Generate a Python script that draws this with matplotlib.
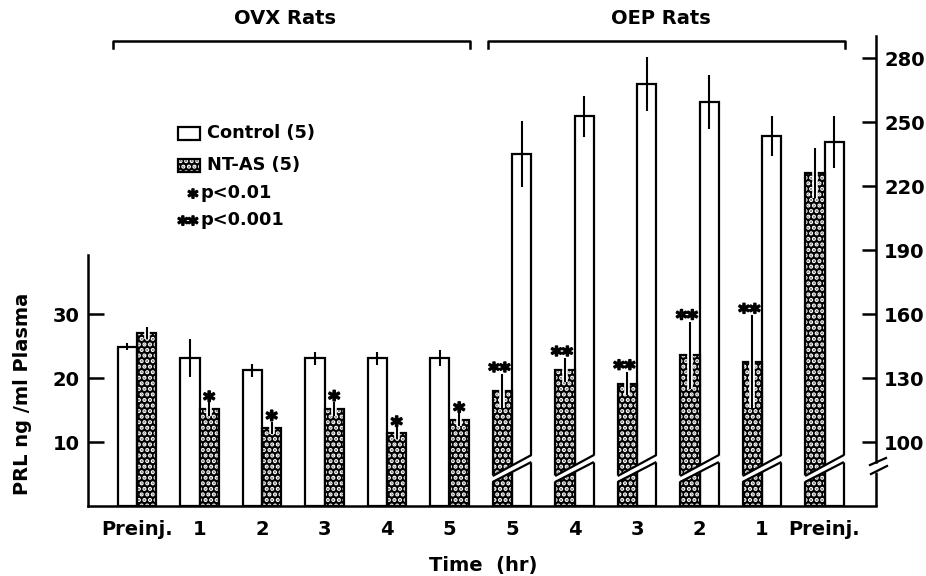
import numpy as np
import matplotlib
matplotlib.use('Agg')
import matplotlib.pyplot as plt
from matplotlib.patches import Rectangle, Polygon
from matplotlib import transforms
import matplotlib.patheffects as pe

plt.rcParams['font.family'] = ['DejaVu Sans']
plt.rcParams['font.weight'] = 'bold'
plt.rcParams['hatch.linewidth'] = 2.1

# OVX rats (left axis, ng/ml)
ovx_labels = ['Preinj.', '1', '2', '3', '4', '5']
ovx_control = [24.9, 23.1, 21.2, 23.1, 23.1, 23.1]
ovx_control_err = [0.5, 3.0, 1.0, 1.0, 1.0, 1.2]
ovx_ntas = [27.0, 15.1, 12.2, 15.2, 11.4, 13.5]
ovx_ntas_err = [0.9, 1.1, 1.0, 1.1, 0.9, 1.0]
ovx_sig = ['', '*', '*', '*', '*', '*']

# OEP rats (right axis, ng/ml)
oep_labels = ['5', '4', '3', '2', '1', 'Preinj.']
oep_control = [235.0, 252.7, 267.8, 259.3, 243.5, 240.6]
oep_control_err = [15.5, 9.7, 12.5, 12.5, 9.4, 12.2]
oep_ntas = [123.8, 133.8, 127.4, 140.6, 137.6, 226.2]
oep_ntas_err = [8.0, 5.5, 5.5, 15.8, 21.7, 11.8]
oep_sig = ['**', '**', '**', '**', '**', '']

left_ticks = [10, 20, 30]
right_ticks = [100, 130, 160, 190, 220, 250, 280]
right_base = 70          # right axis value at the (broken) baseline

W, H = 926, 576
BASE = 506               # baseline pixel row
fig = plt.figure(figsize=(W / 100, H / 100), dpi=100)
ax = fig.add_axes([88 / W, (H - BASE) / H, 788 / W, 470 / H])
ax2 = ax.twinx()

px_per_unit = 6.4
left_top = 470 / px_per_unit
ax.set_ylim(0, left_top)
ax2.set_ylim(right_base, right_base + 3 * left_top)
ax.set_xlim(-0.784, 11.824)

bw = 0.31
lw = 1.6
x_ovx = np.arange(len(ovx_labels))
x_oep = np.arange(len(ovx_labels), len(ovx_labels) + len(oep_labels))
bold_star = [pe.withStroke(linewidth=1.3, foreground='black')]


def stipple_bars(axis, x, heights, bottom=0):
    axis.bar(x, heights, bw, bottom=bottom, color='black', edgecolor='white',
             hatch='...', linewidth=0, zorder=2)
    axis.bar(x, heights, bw, bottom=bottom, fill=False, edgecolor='black',
             linewidth=lw, zorder=3)


def err(axis, x, y, e, halo=False):
    eb = axis.errorbar(x, y, yerr=e, fmt='none', ecolor='black', elinewidth=1.5,
                       capsize=0, zorder=4)
    if halo:
        eb[2][0].set_path_effects([pe.Stroke(linewidth=4, foreground='white'), pe.Normal()])


# OVX: control left, NT-AS right
ax.bar(x_ovx - bw / 2, ovx_control, bw, facecolor='white', edgecolor='black',
       linewidth=lw, zorder=2)
stipple_bars(ax, x_ovx + bw / 2, ovx_ntas)
err(ax, x_ovx - bw / 2, ovx_control, ovx_control_err)
err(ax, x_ovx + bw / 2, ovx_ntas, ovx_ntas_err, halo=True)

# OEP: NT-AS left, control right
oc = np.array(oep_control)
on = np.array(oep_ntas)
ax2.bar(x_oep + bw / 2, oc - right_base, bw, bottom=right_base, facecolor='white',
        edgecolor='black', linewidth=lw, zorder=2)
stipple_bars(ax2, x_oep - bw / 2, on - right_base, bottom=right_base)
err(ax2, x_oep + bw / 2, oc, oep_control_err)
err(ax2, x_oep - bw / 2, on, oep_ntas_err, halo=True)

# significance stars
for xi, v, e, s in zip(x_ovx + bw / 2, ovx_ntas, ovx_ntas_err, ovx_sig):
    if s:
        ax.annotate(s, (xi, v + e), xytext=(0, -3.8), textcoords='offset points',
                    ha='center', va='baseline', fontsize=16, zorder=5,
                    path_effects=bold_star)
for xi, v, e, s in zip(x_oep - bw / 2, oep_ntas, oep_ntas_err, oep_sig):
    if s:
        ax2.annotate(s, (xi, v + e), xytext=(-2, -2.5), textcoords='offset points',
                     ha='center', va='baseline', fontsize=15, zorder=5,
                     path_effects=bold_star)

# break bands across the OEP bar pairs (pixel heights above baseline)
band_tr = transforms.blended_transform_factory(ax2.transData, ax2.transAxes)
hpx = 470.0
for xc in x_oep:
    xl, xr = xc - bw, xc + bw
    lo = (24 / hpx, 44 / hpx)
    hi = (30 / hpx, 51 / hpx)
    ax2.add_patch(Polygon([(xl - 0.03, lo[0]), (xr + 0.03, lo[1]), (xr + 0.03, hi[1]),
                           (xl - 0.03, hi[0])], closed=True, facecolor='white',
                          edgecolor='none', transform=band_tr, zorder=6))
    ax2.plot([xl, xr], lo, color='black', lw=1.6, transform=band_tr, zorder=7,
             solid_capstyle='butt')
    ax2.plot([xl, xr], hi, color='black', lw=1.6, transform=band_tr, zorder=7,
             solid_capstyle='butt')

# axes styling
for s in ['top', 'right']:
    ax.spines[s].set_visible(False)
for s in ['top', 'left', 'bottom']:
    ax2.spines[s].set_visible(False)
ax.spines['left'].set_linewidth(1.8)
ax.spines['bottom'].set_linewidth(1.8)
ax2.spines['right'].set_linewidth(1.8)
ax.spines['left'].set_bounds(0, 39.2)
ax2.spines['right'].set_bounds(right_base + 44 / px_per_unit * 3, right_base + 3 * left_top)

sp_tr = ax2.transAxes
ax2.plot([1, 1], [0, 34.5 / hpx], color='black', lw=1.8, transform=sp_tr, clip_on=False,
         solid_capstyle='butt')
wpx = 788.0
ax2.plot([1 - 6 / wpx, 1 + 10 / wpx], [41 / hpx, 48 / hpx], color='black', lw=1.6,
         transform=sp_tr, clip_on=False)
ax2.plot([1 - 5 / wpx, 1 + 11 / wpx], [32 / hpx, 40 / hpx], color='black', lw=1.6,
         transform=sp_tr, clip_on=False)

ax.set_xticks(np.concatenate([x_ovx, x_oep]))
ax.set_xticklabels(ovx_labels + oep_labels)
ax.tick_params(axis='x', length=0, pad=10, labelsize=14)
ax.set_yticks(left_ticks)
ax.tick_params(axis='y', direction='in', length=11.5, width=1.8, pad=5.8, labelsize=14)
ax2.set_yticks(right_ticks)
ax2.tick_params(axis='y', direction='in', length=10, width=1.8, pad=5.8, labelsize=14)

# group brackets
br_tr = transforms.blended_transform_factory(ax.transData, ax.transAxes)
groups = [('OVX Rats', x_ovx[0] - 0.38, x_ovx[-1] + 0.33),
          ('OEP Rats', x_oep[0] - 0.38, x_oep[-1] + 0.33)]
yb = (BASE - 41) / hpx
yd = (BASE - 48) / hpx
for name, a, b in groups:
    ax.plot([a, a, b, b], [yd, yb, yb, yd], color='black', lw=1.8, transform=br_tr,
            clip_on=False)
    ax.text((a + b) / 2 - 0.1, (BASE - 19) / hpx, name, transform=br_tr, ha='center',
            va='center', fontsize=14)

# axis labels
fig.text(23 / W, 1 - 394 / H, 'PRL ng /ml Plasma', rotation=90, ha='center',
         va='center', fontsize=14)
fig.text(483 / W, 1 - 565 / H, 'Time  (hr)', ha='center', va='center', fontsize=14)

# legend
def fpt(x, y):
    return x / W, 1 - y / H

fig.patches.append(Rectangle(fpt(178, 140), 22 / W, 13 / H, transform=fig.transFigure,
                             facecolor='white', edgecolor='black', lw=1.6))
fig.patches.append(Rectangle(fpt(178, 172), 22 / W, 13 / H, transform=fig.transFigure,
                             facecolor='black', edgecolor='white', hatch='...', lw=0))
fig.patches.append(Rectangle(fpt(178, 172), 22 / W, 13 / H, transform=fig.transFigure,
                             fill=False, edgecolor='black', lw=1.6))
fig.text(*fpt(207, 133), 'Control (5)', ha='left', va='center', fontsize=12.8)
fig.text(*fpt(207, 165), 'NT-AS (5)', ha='left', va='center', fontsize=12.8)
fig.text(*fpt(198, 198), '*', ha='right', va='center', fontsize=14,
         path_effects=bold_star)
fig.text(*fpt(200, 193), 'p<0.01', ha='left', va='center', fontsize=12.8)
fig.text(*fpt(198, 225), '**', ha='right', va='center', fontsize=14,
         path_effects=bold_star)
fig.text(*fpt(200, 220), 'p<0.001', ha='left', va='center', fontsize=12.8)

fig.savefig('out.png', dpi=100)
